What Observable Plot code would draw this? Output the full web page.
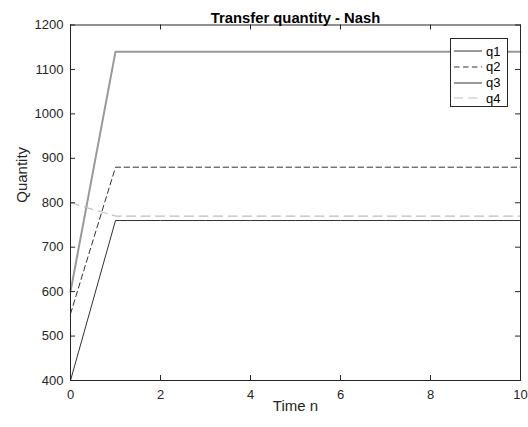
<!DOCTYPE html>
<html>
<head>
<meta charset="utf-8">
<script src="https://cdn.jsdelivr.net/npm/d3@7"></script>
<script src="https://cdn.jsdelivr.net/npm/@observablehq/plot@0.6"></script>
<style>
  html, body { margin: 0; padding: 0; background: #fff; }
  #wrap { position: relative; width: 528px; height: 427px; font-family: "Liberation Sans", Arial, sans-serif; }
  #legend { position: absolute; left: 450px; top: 38px; width: 58px; height: 69px; border: 1px solid #262626; background: #fff; box-sizing: border-box; }
  #legend .row { position: absolute; left: 3px; height: 16px; display: flex; align-items: center; font-size: 13px; color: #000; }
  #legend svg { margin-right: 4px; }
</style>
</head>
<body>
<div id="wrap"></div>
<script>
const n = [0, 1, 2, 3, 4, 5, 6, 7, 8, 9, 10];
const q1 = [400, 760, 760, 760, 760, 760, 760, 760, 760, 760, 760];
const q2 = [550, 880, 880, 880, 880, 880, 880, 880, 880, 880, 880];
const q3 = [600, 1140, 1140, 1140, 1140, 1140, 1140, 1140, 1140, 1140, 1140];
const q4 = [800, 770, 770, 770, 770, 770, 770, 770, 770, 770, 770];
const seriesNames = ["q1", "q2", "q3", "q4"];
const xTicks = [0, 2, 4, 6, 8, 10];
const yTicks = [400, 500, 600, 700, 800, 900, 1000, 1100, 1200];
const titleText = "Transfer quantity - Nash";
const xLabel = "Time n";
const yLabel = "Quantity";

const styles = {
  q1: {stroke: "#1a1a1a", strokeWidth: 0.9},
  q2: {stroke: "#333333", strokeWidth: 1, strokeDasharray: "5.5,3.5"},
  q3: {stroke: "#999999", strokeWidth: 2},
  q4: {stroke: "#bdbdbd", strokeWidth: 1.1, strokeDasharray: "9,5.5"}
};

const allSeries = [q1, q2, q3, q4];
const data = [];
seriesNames.forEach((s, i) => n.forEach((t, j) => data.push({series: s, n: t, q: allSeries[i][j]})));

const lineMarks = seriesNames.map(s => Plot.line(data.filter(d => d.series === s), {x: "n", y: "q", ...styles[s]}));

const W = 528, H = 427, mL = 70, mR = 8, mT = 24.5, mB = 47;
const innerW = W - mL - mR, innerH = H - mT - mB, tickLen = 5;
const axisColor = "#262626";
const fmt = d3.format("d");

const chart = Plot.plot({
  width: W,
  height: H,
  marginLeft: mL,
  marginRight: mR,
  marginTop: mT,
  marginBottom: mB,
  style: {fontFamily: "Liberation Sans, Arial, sans-serif", color: axisColor, background: "#fff"},
  x: {domain: [0, 10]},
  y: {domain: [400, 1200]},
  marks: [
    ...lineMarks,
    Plot.tickX(xTicks, {x: d => d, stroke: axisColor, insetTop: innerH - tickLen}),
    Plot.tickX(xTicks, {x: d => d, stroke: axisColor, insetBottom: innerH - tickLen}),
    Plot.tickY(yTicks, {y: d => d, stroke: axisColor, insetRight: innerW - tickLen}),
    Plot.tickY(yTicks, {y: d => d, stroke: axisColor, insetLeft: innerW - tickLen}),
    Plot.frame({stroke: axisColor, strokeWidth: 1}),
    Plot.axisX({anchor: "bottom", ticks: xTicks, tickSize: 0, tickPadding: 9, tickFormat: fmt, label: null, fontSize: 13}),
    Plot.axisY({anchor: "left", ticks: yTicks, tickSize: 0, tickPadding: 7, tickFormat: fmt, label: null, fontSize: 13}),
    Plot.text([titleText], {frameAnchor: "top", dy: -12.5, fontWeight: "bold", fontSize: 14.8, fill: "#000"}),
    Plot.text([xLabel], {frameAnchor: "bottom", dy: 30, fontSize: 15, fill: "#262626"}),
    Plot.text([yLabel], {frameAnchor: "left", dx: -48.5, rotate: -90, fontSize: 15, fill: "#262626"})
  ]
});
const wrap = document.getElementById("wrap");
wrap.appendChild(chart);

const legend = document.createElement("div");
legend.id = "legend";
seriesNames.forEach((s, i) => {
  const row = document.createElement("div");
  row.className = "row";
  row.style.top = (13 + i * 15.8 - 8 - 1) + "px";
  const st = styles[s];
  row.innerHTML = `<svg width="28" height="4"><line x1="0" y1="2" x2="28" y2="2" stroke="${st.stroke}" stroke-width="${st.strokeWidth}" ${st.strokeDasharray ? `stroke-dasharray="${st.strokeDasharray}"` : ""}/></svg><span>${s}</span>`;
  legend.appendChild(row);
});
wrap.appendChild(legend);
</script>
</body>
</html>
